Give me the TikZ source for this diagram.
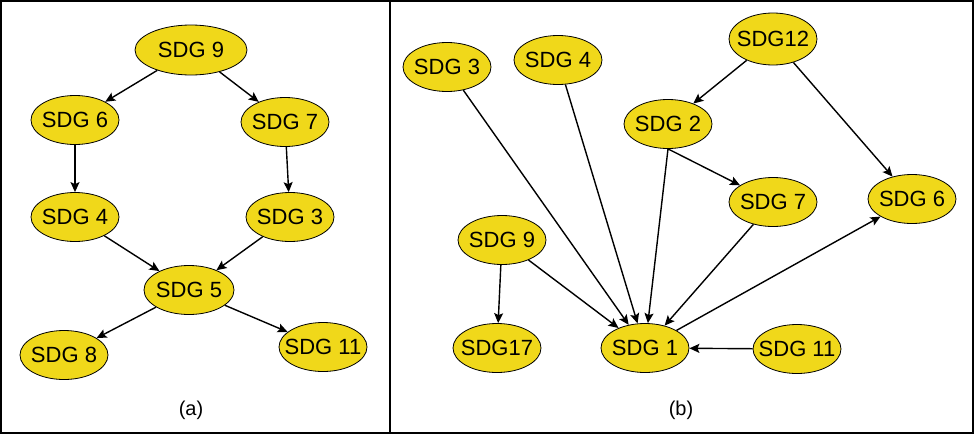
\documentclass[tikz,border=0pt]{standalone}
\usepackage{fontspec}
\setmainfont{Liberation Sans}
\usetikzlibrary{arrows.meta,shapes.geometric}
\definecolor{sdgyellow}{RGB}{240,216,26}
\newcommand{\sdgtext}[1]{\makebox[0pt][c]{#1}}
\tikzset{
  sdg/.style={ellipse, draw=black, line width=0.8pt, fill=sdgyellow, minimum width=88pt, minimum height=49pt, inner sep=0pt, font=\fontsize{22}{24}\selectfont},
  arr/.style={line width=1.4pt, -{Stealth[length=10pt,width=9pt,inset=2pt]}},
  panellabel/.style={font=\fontsize{20}{24}\selectfont}
}
\begin{document}
\begin{tikzpicture}[x=1pt,y=-1pt]
\useasboundingbox (0,0) rectangle (974,434);
\draw[line width=2pt] (1,1) rectangle (973,433);
\draw[line width=2pt] (390,1) -- (390,433);
% left panel
\node[sdg, minimum width=112pt, minimum height=50pt] (a9) at (191,50) {\sdgtext{SDG 9}};
\node[sdg] (a6) at (75,120) {\sdgtext{SDG 6}};
\node[sdg] (a7) at (285,122) {\sdgtext{SDG 7}};
\node[sdg] (a4) at (75,217) {\sdgtext{SDG 4}};
\node[sdg] (a3) at (290,217) {\sdgtext{SDG 3}};
\node[sdg, minimum width=90pt] (a5) at (189,290) {\sdgtext{SDG 5}};
\node[sdg] (a8) at (64,355) {\sdgtext{SDG 8}};
\node[sdg] (a11) at (323,347) {\sdgtext{SDG 11}};
\node[panellabel] (la) at (191,410) {(a)};
\draw[arr] (a9) -- (a6);
\draw[arr] (a9) -- (a7);
\draw[arr] (a6) -- (a4);
\draw[arr] (a7) -- (a3);
\draw[arr] (a4) -- (a5);
\draw[arr] (a3) -- (a5);
\draw[arr] (a5) -- (a8);
\draw[arr] (a5) -- (a11);
% right panel
\node[sdg] (b3) at (447,67) {\sdgtext{SDG 3}};
\node[sdg] (b4) at (558,60) {\sdgtext{SDG 4}};
\node[sdg, minimum width=88pt, minimum height=52pt] (b12) at (773,39) {\sdgtext{SDG12}};
\node[sdg] (b2) at (668,124) {\sdgtext{SDG 2}};
\node[sdg] (b7) at (773,202) {\sdgtext{SDG 7}};
\node[sdg] (b6) at (912,199) {\sdgtext{SDG 6}};
\node[sdg] (b9) at (502,240) {\sdgtext{SDG 9}};
\node[sdg] (b17) at (497,348) {\sdgtext{SDG17}};
\node[sdg] (b1) at (645,348) {\sdgtext{SDG 1}};
\node[sdg] (b11) at (797,349) {\sdgtext{SDG 11}};
\node[panellabel] (lb) at (681,410) {(b)};
\draw[arr] (b3) -- (b1);
\draw[arr] (b4) -- (b1);
\draw[arr] (b12) -- (b2);
\draw[arr] (b12) -- (b6);
\draw[arr] (b2.south) -- (b1);
\draw[arr] (b2.south) -- (b7);
\draw[arr] (b7) -- (b1);
\draw[arr] (b1) -- (b6);
\draw[arr] (b9) -- (b17);
\draw[arr] (b9) -- (b1);
\draw[arr] (b11) -- (b1);
\end{tikzpicture}
\end{document}
